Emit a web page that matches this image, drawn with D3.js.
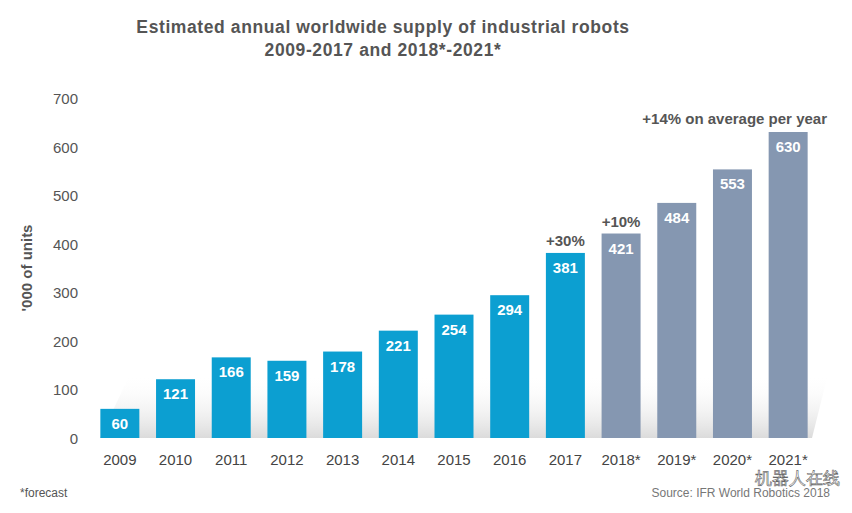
<!DOCTYPE html>
<html><head><meta charset="utf-8">
<script src="https://cdn.jsdelivr.net/npm/d3@7"></script>
<style>body{margin:0;background:#fff}svg{display:block}text{font-family:Arial,"Liberation Sans",sans-serif}</style>
</head><body><svg id="chart" width="852" height="513"></svg>
<script>
const years = ["2009","2010","2011","2012","2013","2014","2015","2016","2017","2018*","2019*","2020*","2021*"];
const supply = [60,121,166,159,178,221,254,294,381,421,484,553,630];
const forecast = [false,false,false,false,false,false,false,false,false,true,true,true,true];
const yTicks = [0,100,200,300,400,500,600,700];

const svg = d3.select("#chart");
const x = d3.scaleBand().domain(years).range([92, 816]).paddingInner(0.3).paddingOuter(0.15);
const y = d3.scaleLinear().domain([0,700]).range([438, 98]);

// floor shadow
const defs = svg.append("defs");
const grad = defs.append("linearGradient").attr("id","floor").attr("x1",0).attr("y1",0).attr("x2",0).attr("y2",1);
grad.append("stop").attr("offset","0%").attr("stop-color","#fff").attr("stop-opacity",0);
grad.append("stop").attr("offset","100%").attr("stop-color","#d2d2d2").attr("stop-opacity",0.8);
svg.append("path").attr("d","M100,438 L812,438 L828,374 L130,374 Z").attr("fill","url(#floor)");

svg.append("text").attr("x",383).attr("y",33).attr("text-anchor","middle").attr("letter-spacing",0.6)
  .attr("font-size",17.5).attr("font-weight","bold").attr("fill","#555").text("Estimated annual worldwide  supply of industrial robots");
svg.append("text").attr("x",383).attr("y",56).attr("text-anchor","middle").attr("letter-spacing",0.6)
  .attr("font-size",17.5).attr("font-weight","bold").attr("fill","#555").text("2009-2017 and 2018*-2021*");

svg.selectAll(".yt").data(yTicks).enter().append("text")
  .attr("x",78).attr("y",d=>y(d)+6).attr("text-anchor","end")
  .attr("font-size",15).attr("fill","#555").text(d=>d);

svg.append("text").attr("transform","translate(32,268) rotate(-90)").attr("text-anchor","middle")
  .attr("font-size",15).attr("font-weight","bold").attr("fill","#555").text("'000 of units");

svg.selectAll(".bar").data(supply).enter().append("rect")
  .attr("x",(d,i)=>x(years[i])).attr("width",x.bandwidth())
  .attr("y",d=>y(d)).attr("height",d=>y(0)-y(d))
  .attr("fill",(d,i)=>forecast[i] ? "#8597b1" : "#0c9fd1");

svg.selectAll(".val").data(supply).enter().append("text")
  .attr("x",(d,i)=>x(years[i])+x.bandwidth()/2).attr("y",d=>y(d)+20)
  .attr("text-anchor","middle").attr("font-size",15).attr("font-weight","bold")
  .attr("fill","#fff").text(d=>d);

svg.selectAll(".xl").data(years).enter().append("text")
  .attr("x",d=>x(d)+x.bandwidth()/2).attr("y",465).attr("text-anchor","middle")
  .attr("font-size",15).attr("fill","#444").text(d=>d);

const ann = (t,xx,yy,anchor)=>svg.append("text").attr("x",xx).attr("y",yy).attr("text-anchor",anchor)
  .attr("font-size",15).attr("font-weight","bold").attr("fill","#555").text(t);
ann("+30%", x("2017")+x.bandwidth()/2, y(381)-7, "middle");
ann("+10%", x("2018*")+x.bandwidth()/2, y(421)-7, "middle");
ann("+14% on average per year", 827, 124, "end");

svg.append("text").attr("x",20).attr("y",497).attr("font-size",12).attr("fill","#555").text("*forecast");
svg.append("text").attr("x",830).attr("y",497).attr("text-anchor","end").attr("font-size",12).attr("fill","#777").text("Source: IFR World Robotics 2018");
svg.append("text").attr("x",840).attr("y",484).attr("text-anchor","end").attr("font-size",17)
  .attr("font-family","Noto Sans CJK SC").attr("fill","#fff").attr("stroke","#666").attr("stroke-width",0.6).text("机器人在线");
</script></body></html>
